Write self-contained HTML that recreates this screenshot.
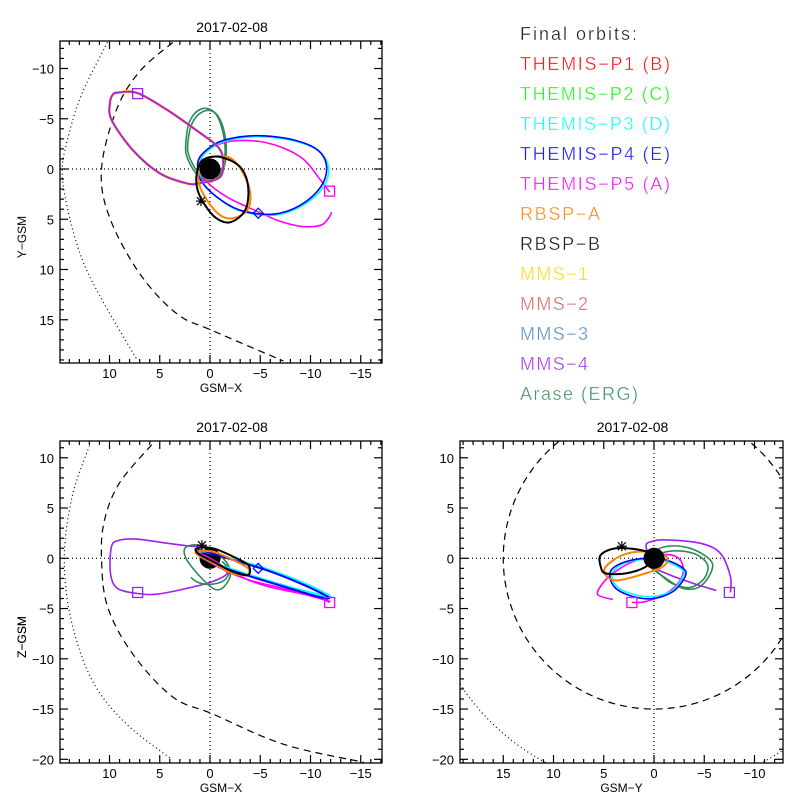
<!DOCTYPE html>
<html><head><meta charset="utf-8"><style>
html,body{margin:0;padding:0;background:#fff;}
svg{display:block;font-family:"Liberation Sans",sans-serif;}
</style></head><body>
<svg id="chart" width="800" height="800" viewBox="0 0 800 800">
<rect x="0" y="0" width="800" height="800" fill="#fff"/>
<g id="legend" font-size="18" stroke="#fff" stroke-width="0.35" fill-opacity="0.9">
<text x="520" y="40" fill="#000" textLength="117">Final orbits:</text>
<text x="520" y="70" fill="#ff0000" textLength="150">THEMIS−P1 (B)</text>
<text x="520" y="100" fill="#00ff00" textLength="150">THEMIS−P2 (C)</text>
<text x="520" y="130" fill="#00ffff" textLength="150">THEMIS−P3 (D)</text>
<text x="520" y="160" fill="#0000ff" textLength="150">THEMIS−P4 (E)</text>
<text x="520" y="190" fill="#ff00ff" textLength="150">THEMIS−P5 (A)</text>
<text x="520" y="220" fill="#ff7f00" textLength="80">RBSP−A</text>
<text x="520" y="250" fill="#000000" textLength="80">RBSP−B</text>
<text x="520" y="280" fill="#ffd700" textLength="68">MMS−1</text>
<text x="520" y="310" fill="#cd5c5c" textLength="68">MMS−2</text>
<text x="520" y="340" fill="#4682b4" textLength="68">MMS−3</text>
<text x="520" y="370" fill="#a020f0" textLength="68">MMS−4</text>
<text x="520" y="400" fill="#2e8b57" textLength="118">Arase (ERG)</text>
</g>
</svg>
<script>
// ---------- panel XY (top-left) ----------
const xyDotted = [[10.2,-12.6],[12.7,-7.6],[14,-3.6],[14.7,0],[14.2,3.8],[12.8,8.8],[10.7,13.1],[7.3,18.9]];
const xyDashed = [[3.7,-12.6],[7,-9.7],[9.3,-5.9],[10.8,0],[10,4.8],[7,10.4],[3.3,14.4],[-0.3,16.1],[-7.3,19.1]];
const xyMms = [[9.2,-7.6],[7.2,-7.55],[4.3,-5.9],[1,-3.6],[-0.8,-2.2],[-1.3,-0.9],[-1,0.8],[1,1.4],[2.3,1.43],[5,0.43],[7.7,-1.9],[9.8,-4.9],[9.95,-6.6],[9.7,-7.35]];
const xyP4 = [[1,-1.2],[-0.7,-2.6],[-3,-3.2],[-5.3,-3.3],[-8.3,-2.9],[-10.7,-1.9],[-11.6,-0.2],[-11,1.8],[-9,3.6],[-6.3,4.5],[-3,4.1],[-0.7,2.8],[0.8,1.3],[1.2,0.1]];
const xyP3 = [[0.9,-1.1],[-0.8,-2.5],[-3.1,-3.1],[-5.4,-3.2],[-8.4,-2.8],[-10.8,-1.8],[-11.8,-0.1],[-11.2,1.9],[-9.1,3.7],[-6.4,4.6],[-3.1,4.2],[-0.8,2.9],[0.7,1.4],[1.1,0.2]];
const xyP5 = [[-11.9,2.3],[-11,1.1],[-9,-1.2],[-5.7,-2.6],[-2.3,-2.8],[-0.3,-2.2],[0.8,-1.2],[1,0.1],[0.3,1.3],[-1.7,2.8],[-4,3.9],[-6.7,5.1],[-9,5.7],[-11,5.6],[-11.8,4.9],[-12.1,4.3]];
const xyRbspA = [[1,-0.6],[-0.3,-1.2],[-2,-1.1],[-3.3,0.4],[-4,2.4],[-3.7,4.1],[-2.3,4.9],[-1,4.6],[0.3,3.1],[1.1,1.4]];
const xyRbspB = [[1.3,0.4],[0.7,-0.9],[-1,-1.2],[-3,-0.2],[-3.8,1.8],[-3.5,4.1],[-2,5.3],[-0.5,4.8],[0.8,3.1],[1.3,1.8]];
const xyArase = [[2.3,-3.6],[2.0,-4.8],[1.2,-5.8],[0.2,-6.0],[-0.7,-5.3],[-1.3,-3.6],[-1.5,-1.6],[-1.1,0.2],[-0.3,1.2],[0.7,1.1],[1.7,0.0],[2.4,-1.6]];
const xyArase2 = [[2.1,-3.4],[1.7,-4.7],[0.9,-5.6],[-0.1,-5.8],[-0.9,-5.1],[-1.5,-3.3],[-1.6,-1.3],[-1.2,0.3],[-0.4,1.1],[0.6,1.0],[1.5,-0.1],[2.2,-1.7]];
const xyMarkSquare = [[7.2,-7.5],[-11.9,2.2]];
const xyMarkDiamond = [[-4.8,4.4]];
const xyMarkStar = [[0.9,3.2]];
// ---------- panel XZ (bottom-left) ----------
const xzDotted = [[12,11.2],[13.7,6.2],[14.5,0],[13.8,-6.2],[11.7,-12.2],[8.3,-16.5],[3.8,-20]];
const xzDashed = [[5.8,11.3],[9,7.5],[10.5,3.8],[10.8,0],[10.2,-4.8],[7.7,-9.5],[3.7,-13.8],[-0.3,-15.5],[-7.3,-18.5],[-15.3,-20.3]];
const xzMms = [[7.2,-3.5],[9.2,-3.0],[9.9,-1.5],[9.8,1.17],[9,1.8],[7.2,1.9],[4.3,1.5],[2,1.2],[0.3,1.0],[-1,-0.8],[-1.7,-1.5],[-0.3,-2.3],[2.3,-3.0],[5.3,-3.57]];
const xzP4 = [[1,0.8],[-2.3,-0.17],[-5.7,-1.2],[-9,-2.5],[-11.5,-3.7],[-11.7,-4],[-10.3,-3.7],[-7.3,-2.8],[-4,-1.8],[-1,-0.8],[1,0.17]];
const xzP3 = [[0.9,0.7],[-2.4,-0.1],[-5.8,-1.1],[-9.2,-2.4],[-11.7,-3.6],[-11.9,-3.9],[-10.4,-3.5],[-7.4,-2.7],[-4.1,-1.7],[-1.1,-0.7],[0.9,0.2]];
const xzP5 = [[-11.9,-4.4],[-11,-4],[-7.3,-3],[-4,-2.2],[-1.7,-1.3],[0.3,-0.2],[1,0.5],[-0.3,-0.17],[-3,-1.8],[-5.7,-2.8],[-9,-3.5],[-12,-4.3]];
const xzRbspA = [[1.3,0.67],[-0.3,0.67],[-2.3,-0.17],[-3.8,-1],[-3.7,-1.67],[-2.3,-1.5],[-0.3,-0.5],[1.2,0.33]];
const xzRbspB = [[1.3,1],[-0.3,1],[-2.3,0.17],[-3.8,-0.67],[-3.8,-1.67],[-2.3,-1.33],[-0.3,-0.33],[1.2,0.5]];
const xzArase = [[2.5,1],[2.3,-0.17],[1,-1.8],[-0.3,-3],[-1.2,-3],[-2,-1.8],[-1.7,-0.5],[-0.3,0.83],[1.3,1.33]];
const xzArase2 = [[1.9,-1.9],[1.2,-2.4],[0,-2.6],[-1.4,-2.2],[-1.9,-1.2],[-1.2,-0.3]];
const xzMarkSquare = [[7.2,-3.4],[-11.9,-4.4]];
const xzMarkDiamond = [[-4.8,-1]];
const xzMarkStar = [[0.8,1.3]];
// ---------- panel YZ (bottom-right) ----------
const yzDashedRadius = [15];
const yzDottedRadius = [23];
const yzMms = [[-7.6,-3.4],[-7.6,-1.8],[-6.6,0.5],[-4.6,1.5],[-1.2,1.83],[0.1,1.7],[0.8,1.2],[-0.07,-0.8],[-1.2,-1.5],[-3.9,-2.5],[-6.2,-3.2]];
const yzP4 = [[4.4,-1.8],[3.8,-3],[2.1,-3.8],[0.1,-4],[-1.9,-3.3],[-3.1,-1.8],[-2.9,-1],[-1.2,-0.17],[0.8,0],[2.8,-0.33],[4.1,-1]];
const yzP3 = [[4.2,-1.8],[3.6,-2.9],[2.0,-3.6],[0.1,-3.8],[-1.8,-3.2],[-2.9,-1.8],[-2.8,-1.1],[-1.1,-0.3],[0.8,-0.1],[2.7,-0.4],[3.9,-1.1]];
const yzP5 = [[2.2,-4.4],[0.8,-4.3],[-1.2,-3.5],[-2.6,-2.2],[-2.9,-0.83],[-2.2,0.17],[-0.6,0.33],[2.1,-0.33],[4.1,-1.5],[5.1,-2.5],[5.6,-3.6],[4.1,-4.1]];
const yzRbspA = [[4.8,-0.83],[3.1,0.33],[0.8,0.67],[-1.2,0.17],[-0.9,-0.83],[1.4,-1.67],[3.8,-2.2],[4.8,-1.67]];
const yzRbspB = [[5.3,0.33],[3.8,1],[1.4,0.83],[0.1,0.33],[0.8,-0.83],[2.8,-1.5],[4.8,-1.5],[5.3,-0.83]];
const yzArase = [[0.8,0.17],[-1.2,1.17],[-3.6,1],[-5.6,-0.17],[-5.7,-1.33],[-4.6,-2.8],[-2.9,-3],[-0.9,-1.8],[0.4,-0.83]];
const yzArase2 = [[0.6,-0.2],[-1.5,0.7],[-3.9,0.5],[-5.3,-0.6],[-5.0,-2.0],[-3.6,-2.9],[-1.8,-2.5],[-0.3,-1.3]];
const yzMarkSquare = [[-7.5,-3.4],[2.2,-4.4]];
const yzMarkStar = [[3.2,1.2]];

const xTicksXY = [10,5,0,-5,-10,-15];
const yTicksXY = [-10,-5,0,5,10,15];
const zTicks = [10,5,0,-5,-10,-15,-20];
const xTicksYZ = [15,10,5,0,-5,-10];
const panelTitle = "2017-02-08";

const NS = "http://www.w3.org/2000/svg";
const svg = document.getElementById('chart');
function mk(tag, attrs, parent){const e=document.createElementNS(NS,tag);for(const k in attrs)e.setAttribute(k,attrs[k]);(parent||svg).appendChild(e);return e;}

const P1 = {box:[60,41,382,363]}; P1.sx=v=>210-10.05*v; P1.sy=v=>169+10.05*v;
const P2 = {box:[60,441,382,763]}; P2.sx=v=>210-10.05*v; P2.sy=v=>558.3-10.05*v;
const P3 = {box:[460,441,783,763]}; P3.sx=v=>654-10.05*v; P3.sy=v=>558.3-10.05*v;

function pathFrom(P, pts, closed){
  const p = pts.map(d=>[P.sx(d[0]),P.sy(d[1])]);
  const n=p.length; let s="M"+p[0][0].toFixed(1)+","+p[0][1].toFixed(1);
  const cnt = closed? n : n-1;
  for(let i=0;i<cnt;i++){
    const p0=p[closed?(i-1+n)%n:Math.max(i-1,0)], p1=p[i], p2=p[(i+1)%n], p3=p[closed?(i+2)%n:Math.min(i+2,n-1)];
    const c1=[p1[0]+(p2[0]-p0[0])/6,p1[1]+(p2[1]-p0[1])/6], c2=[p2[0]-(p3[0]-p1[0])/6,p2[1]-(p3[1]-p1[1])/6];
    s+="C"+c1[0].toFixed(1)+","+c1[1].toFixed(1)+" "+c2[0].toFixed(1)+","+c2[1].toFixed(1)+" "+p2[0].toFixed(1)+","+p2[1].toFixed(1);
  }
  if(closed) s+="Z";
  return s;
}

function drawPanel(P, id, hTicks, vTicks, hLabel, vLabel, hMin, hMax, vMin, vMax){
  const [x0,y0,x1,y1]=P.box;
  const g = mk('g',{id:id});
  
  
  const cr = mk('clipPath',{id:id+'-clip'},g);
  mk('rect',{x:x0,y:y0,width:x1-x0,height:y1-y0},cr);
  const plot = mk('g',{'clip-path':'url(#'+id+'-clip)'},g);
  P.plot = plot;
  const zx = mk('line',{x1:P.sx(0),x2:P.sx(0),y1:y0,y2:y1,stroke:'#000','stroke-width':1.2,'stroke-dasharray':'1 3'},plot);
  
  
  const zy = mk('line',{x1:x0,x2:x1,y1:P.sy(0),y2:P.sy(0),stroke:'#000','stroke-width':1.2,'stroke-dasharray':'1 3'},plot);
  
  
  const fr = mk('rect',{x:x0,y:y0,width:x1-x0,height:y1-y0,fill:'none',stroke:'#000','stroke-width':1.3},g);
  
  
  for(let v=Math.ceil(Math.min(hMin,hMax));v<=Math.max(hMin,hMax);v++){
    const X=P.sx(v); if(X<x0+0.5||X>x1-0.5) continue;
    const L = v%5===0?8:4;
    mk('line',{x1:X,x2:X,y1:y1,y2:y1-L,stroke:'#000','stroke-width':1.2},g);
    mk('line',{x1:X,x2:X,y1:y0,y2:y0+L,stroke:'#000','stroke-width':1.2},g);
  }
  for(let v=Math.ceil(Math.min(vMin,vMax));v<=Math.max(vMin,vMax);v++){
    const Y=P.sy(v); if(Y<y0+0.5||Y>y1-0.5) continue;
    const L = v%5===0?8:4;
    mk('line',{x1:x0,x2:x0+L,y1:Y,y2:Y,stroke:'#000','stroke-width':1.2},g);
    mk('line',{x1:x1,x2:x1-L,y1:Y,y2:Y,stroke:'#000','stroke-width':1.2},g);
  }
  hTicks.forEach(v=>{
    const t = mk('text',{x:P.sx(v),y:y1+15,'text-anchor':'middle','font-size':13,fill:'#000'},g);
    t.textContent = v<0?'−'+(-v):String(v);
    
    
  });
  vTicks.forEach(v=>{
    const t = mk('text',{x:x0-6,y:P.sy(v)+5,'text-anchor':'end','font-size':13,fill:'#000'},g);
    t.textContent = v<0?'−'+(-v):String(v);
    
    
  });
  const ht = mk('text',{x:(x0+x1)/2,y:y1+29,'text-anchor':'middle','font-size':12,fill:'#000'},g);
  ht.textContent = hLabel;
  
  
  const vy=(y0+y1)/2+35;
  const vt = mk('text',{x:26,y:vy,'text-anchor':'middle','font-size':12,fill:'#000',transform:'rotate(-90 26 '+vy+')'},g);
  vt.textContent = vLabel;
  
  
  const tt = mk('text',{x:(x0+x1)/2+11,y:y0-9,'text-anchor':'middle','font-size':14,fill:'#000'},g);
  tt.textContent = panelTitle;
  
  
}

function curve(P, pts, color, closed, name, dash, w){
  const e = mk('path',{d:pathFrom(P,pts,closed),fill:'none',stroke:color,'stroke-width':w||1.6,'stroke-dasharray':dash||'none'},P.plot);
  
  
  return e;
}
function earth(P){
  const e = mk('circle',{cx:P.sx(0),cy:P.sy(0),r:10.5,fill:'#000'},P.plot);
  
  
}
function squares(P, pts, color){
  pts.forEach(d=>{
    const e = mk('rect',{x:P.sx(d[0])-5,y:P.sy(d[1])-5,width:10,height:10,fill:'none',stroke:color,'stroke-width':1.3},P.plot);
    
    
  });
}
function diamonds(P, pts, color){
  pts.forEach(d=>{
    const X=P.sx(d[0]),Y=P.sy(d[1]);
    const e = mk('path',{d:`M${X-5},${Y}L${X},${Y-5}L${X+5},${Y}L${X},${Y+5}Z`,fill:'none',stroke:color,'stroke-width':1.2},P.plot);
    
    
  });
}
function stars(P, pts){
  pts.forEach(d=>{
    const X=P.sx(d[0]),Y=P.sy(d[1]);
    const e = mk('path',{d:`M${X-5},${Y}H${X+5}M${X},${Y-5}V${Y+5}M${X-4},${Y-4}L${X+4},${Y+4}M${X-4},${Y+4}L${X+4},${Y-4}`,stroke:'#000','stroke-width':1.2},P.plot);
    
    
  });
}

// Panel 1
drawPanel(P1,'panel-xy',xTicksXY,yTicksXY,'GSM−X','Y−GSM',-17.2,15,-12.7,19.3);
curve(P1,xyDotted,'#000',false,'bow-shock','1 3',1.2);
curve(P1,xyDashed,'#000',false,'magnetopause','7 5',1.2);
curve(P1,xyArase,'#2e8b57',true,'orbit-arase');
curve(P1,xyArase2,'#2e8b57',true,'orbit-arase-2');
curve(P1,xyP5,'#ff00ff',false,'orbit-themis-p5');
curve(P1,xyP3,'#00ffff',true,'orbit-themis-p3');
curve(P1,xyP4,'#0000ff',true,'orbit-themis-p4');
curve(P1,xyMms,'#ff7f00',true,'orbit-mms-shadow',null,2.4);
curve(P1,xyMms,'#a020f0',true,'orbit-mms-4');
curve(P1,xyRbspA,'#ff7f00',true,'orbit-rbsp-a',null,2);
curve(P1,xyRbspB,'#000',true,'orbit-rbsp-b',null,2);
earth(P1);
squares(P1,xyMarkSquare.slice(0,1),'#a020f0');
squares(P1,xyMarkSquare.slice(1),'#ff00ff');
diamonds(P1,xyMarkDiamond,'#0000ff');
stars(P1,xyMarkStar);

// Panel 2
drawPanel(P2,'panel-xz',xTicksXY,zTicks,'GSM−X','Z−GSM',-17.2,15,-20.5,11.7);
curve(P2,xzDotted,'#000',false,'bow-shock','1 3',1.2);
curve(P2,xzDashed,'#000',false,'magnetopause','7 5',1.2);
curve(P2,xzMms,'#a020f0',true,'orbit-mms-4');
curve(P2,xzArase,'#2e8b57',true,'orbit-arase');
curve(P2,xzArase2,'#2e8b57',false,'orbit-arase-2');
earth(P2);
curve(P2,xzP5,'#ff00ff',false,'orbit-themis-p5');
curve(P2,xzP3,'#00ffff',true,'orbit-themis-p3',null,2);
curve(P2,xzP4,'#0000ff',true,'orbit-themis-p4',null,2);
curve(P2,xzRbspA,'#ff7f00',true,'orbit-rbsp-a',null,2);
curve(P2,xzRbspB,'#000',true,'orbit-rbsp-b',null,2);
squares(P2,xzMarkSquare.slice(0,1),'#a020f0');
squares(P2,xzMarkSquare.slice(1),'#ff00ff');
diamonds(P2,xzMarkDiamond,'#0000ff');
stars(P2,xzMarkStar);

// Panel 3
drawPanel(P3,'panel-yz',xTicksYZ,zTicks,'GSM−Y','Z−GSM',-12.9,19.4,-20.5,11.7);
(function(){
  const c1 = mk('circle',{cx:P3.sx(0),cy:P3.sy(0),r:P3.sy(0)-P3.sy(yzDashedRadius[0]),fill:'none',stroke:'#000','stroke-width':1.2,'stroke-dasharray':'7 5'},P3.plot);
  
  
  const c2 = mk('circle',{cx:P3.sx(0),cy:P3.sy(0),r:P3.sy(0)-P3.sy(yzDottedRadius[0]),fill:'none',stroke:'#000','stroke-width':1.2,'stroke-dasharray':'1 3'},P3.plot);
  
  
})();
curve(P3,yzArase,'#2e8b57',true,'orbit-arase');
curve(P3,yzArase2,'#2e8b57',true,'orbit-arase-2');
curve(P3,yzMms,'#a020f0',false,'orbit-mms-4');
curve(P3,yzP5,'#ff00ff',false,'orbit-themis-p5');
curve(P3,yzP3,'#00ffff',true,'orbit-themis-p3');
curve(P3,yzP4,'#0000ff',true,'orbit-themis-p4');
curve(P3,yzRbspA,'#ff7f00',true,'orbit-rbsp-a',null,2);
curve(P3,yzRbspB,'#000',true,'orbit-rbsp-b',null,2);
earth(P3);
squares(P3,yzMarkSquare.slice(0,1),'#a020f0');
squares(P3,yzMarkSquare.slice(1),'#ff00ff');
stars(P3,yzMarkStar);
</script>
</body></html>
